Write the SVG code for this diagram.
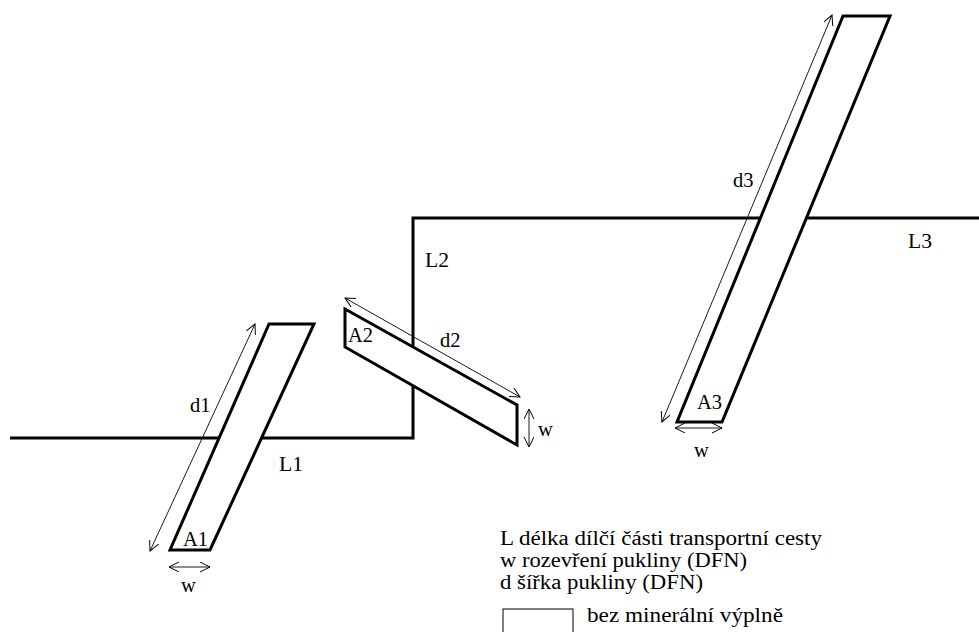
<svg xmlns="http://www.w3.org/2000/svg" width="979" height="632" viewBox="0 0 979 632">
<defs>
<marker id="ah" markerWidth="12" markerHeight="12" refX="10" refY="5" orient="auto-start-reverse" markerUnits="userSpaceOnUse">
<path d="M0,0 L10,5 L0,10" fill="none" stroke="#000" stroke-width="1"/>
</marker>
<style>
.thick{fill:#fff;stroke:#000;stroke-width:3;stroke-linejoin:miter}
.path{fill:none;stroke:#000;stroke-width:3}
.dim{fill:none;stroke:#000;stroke-width:0.9;marker-start:url(#ah);marker-end:url(#ah)}
text{font-family:"Liberation Serif","Times New Roman",serif;font-size:20.5px;fill:#000}
</style>
</defs>
<rect width="979" height="632" fill="#fff"/>
<g id="transport-path">
<polyline class="path" points="10,438 413,438 413,218 979,218"/>
<text x="279" y="471" textLength="24" lengthAdjust="spacingAndGlyphs">L1</text>
<text x="425" y="267" textLength="24" lengthAdjust="spacingAndGlyphs">L2</text>
<text x="908" y="248" textLength="24" lengthAdjust="spacingAndGlyphs">L3</text>
</g>
<g id="fracture1">
<polygon class="thick" points="170,550 210,550 314,324 269,324"/>
<text x="183" y="546">A1</text>
<text x="190" y="412">d1</text>
<text x="181" y="592">w</text>
</g>
<g id="fracture2">
<polygon class="thick" points="345,309 517,405 517,445 345,347"/>
<text x="348" y="342">A2</text>
<text x="440" y="347">d2</text>
<text x="538" y="436">w</text>
</g>
<g id="fracture3">
<polygon class="thick" points="677,422 722,422 890,16 843,16"/>
<text x="697" y="409">A3</text>
<text x="733" y="187">d3</text>
<text x="694" y="457">w</text>
</g>
<g id="connectors">
<line class="dim" x1="150" y1="551" x2="255" y2="324"/>
<line class="dim" x1="169" y1="567" x2="210" y2="567"/>
<line class="dim" x1="345" y1="298" x2="520" y2="397"/>
<line class="dim" x1="529" y1="409" x2="529" y2="447"/>
<line class="dim" x1="662" y1="422" x2="832" y2="15"/>
<line class="dim" x1="675" y1="428" x2="722" y2="428"/>
</g>
<g id="legend">
<text x="500" y="545" textLength="322" lengthAdjust="spacingAndGlyphs">L délka dílčí části transportní cesty</text>
<text x="500" y="567" textLength="247" lengthAdjust="spacingAndGlyphs">w rozevření pukliny (DFN)</text>
<text x="500" y="589" textLength="203" lengthAdjust="spacingAndGlyphs">d šířka pukliny (DFN)</text>
<rect x="503" y="609" width="70" height="30" fill="#fff" stroke="#000" stroke-width="1"/>
<text x="587" y="622" textLength="196" lengthAdjust="spacingAndGlyphs">bez minerální výplně</text>
</g>
</svg>
